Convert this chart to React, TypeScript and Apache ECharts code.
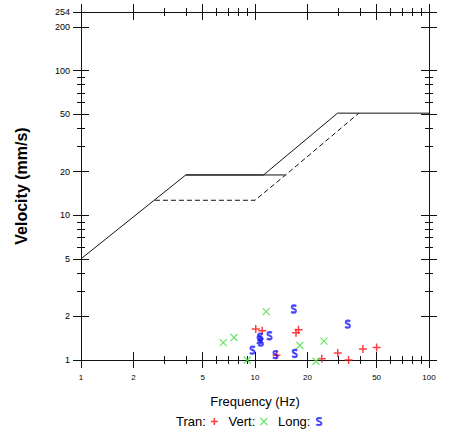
import React, { useEffect, useRef } from "react";
import * as echarts from "echarts";

// Tick values (Hz / mm/s)
const xMajorTicks = [1, 2, 5, 10, 20, 50, 100];
const xMinorTicks = [3, 4, 6, 7, 8, 9, 30, 40, 60, 70, 80, 90];
const yMajorTicks = [1, 2, 5, 10, 20, 50, 100, 200, 254];
const yMinorTicks = [3, 4, 6, 7, 8, 9, 30, 40, 60, 70, 80, 90];

// Limit curves
const osmreFreq = [1, 4, 11.2, 29.8, 100];
const osmreVel = [5, 19, 19, 50.8, 50.8];
const drywallFreq = [4, 15];
const drywallVel = [19, 19];
const plasterFreq = [2.66, 10, 15, 39.5];
const plasterVel = [12.7, 12.7, 19, 50.8];

// Measured peaks
const tranFreq = [10.1, 11.0, 17.2, 17.8, 13.3, 24.2, 29.9, 34.5, 41.7, 50.0];
const tranVel = [1.64, 1.59, 1.54, 1.62, 1.08, 1.02, 1.12, 1.0, 1.19, 1.22];
const vertFreq = [11.6, 6.57, 7.57, 9.03, 18.1, 22.4, 24.9];
const vertVel = [2.16, 1.32, 1.43, 1.0, 1.26, 0.98, 1.35];
const longFreq = [16.7, 34.1, 12.1, 10.7, 10.6, 10.8, 9.66, 13.1, 16.9];
const longVel = [2.25, 1.77, 1.47, 1.44, 1.38, 1.33, 1.17, 1.09, 1.11];

const lg = (v: number) => Math.log10(v);
const pts = (f: number[], v: number[]) => f.map((x, i) => [lg(x), lg(v[i])]);
const fmt = (v: number) => String(Math.round(Math.pow(10, v)));

const FONT = "Liberation Sans, Arial, sans-serif";
const axisColor = "#111";
const X_MIN = 0;
const X_MAX = lg(100);
const Y_MIN = 0;
const Y_MAX = lg(254);

const plusSym = "path://M0,5L10,5M5,0L5,10";
const crossSym = "path://M0,0L10,10M10,0L0,10";
const sSym = "path://M8.5,2.2C7.5,0.6 1.8,0.4 1.8,3.3C1.8,6.3 8.3,5.2 8.3,8.4C8.3,11.6 2.5,11.4 1.2,9.6";

function makeAxes(dim: "x" | "y", pos: string, withLabels: boolean) {
  const isX = dim === "x";
  const major = (isX ? xMajorTicks : yMajorTicks).map(lg);
  const minor = (isX ? xMinorTicks : yMinorTicks).map(lg);
  const base: any = {
    type: "value",
    position: pos,
    min: isX ? X_MIN : Y_MIN,
    max: isX ? X_MAX : Y_MAX,
    splitLine: { show: false },
    nameMoveOverlap: false,
  };
  const lineAxis: any = {
    ...base,
    axisLine: { show: true, onZero: false, lineStyle: { color: axisColor, width: 1 } },
    axisTick: { show: false },
    axisLabel: withLabels
      ? {
          show: true,
          customValues: major,
          formatter: fmt,
          margin: isX ? 13 : 11,
          fontSize: isX ? 8 : 9,
          color: "#000",
          fontFamily: FONT,
        }
      : { show: false },
  };
  if (withLabels && isX) {
    lineAxis.name = "Frequency (Hz)";
    lineAxis.nameLocation = "middle";
    lineAxis.nameGap = 35;
    lineAxis.nameTextStyle = { fontSize: 13, fontFamily: FONT, color: "#000" };
  }
  if (withLabels && !isX) {
    lineAxis.name = "Velocity (mm/s)";
    lineAxis.nameLocation = "middle";
    lineAxis.nameGap = 52;
    lineAxis.nameTextStyle = { fontSize: 16, fontWeight: "bold", fontFamily: FONT, color: "#000" };
  }
  const majorAxis = {
    ...base,
    offset: 8,
    axisLine: { show: false, onZero: false },
    axisTick: { show: true, inside: true, length: 16, customValues: major, lineStyle: { color: axisColor, width: 1 } },
    axisLabel: { show: false },
  };
  const minorAxis = {
    ...base,
    offset: 4,
    axisLine: { show: false, onZero: false },
    axisTick: { show: true, inside: true, length: 8, customValues: minor, lineStyle: { color: axisColor, width: 1 } },
    axisLabel: { show: false },
  };
  return [lineAxis, majorAxis, minorAxis];
}

export default function App() {
  const ref = useRef<HTMLDivElement>(null);
  useEffect(() => {
    if (!ref.current) return;
    const chart = echarts.init(ref.current, undefined, { renderer: "svg" });
    const lineBase = {
      type: "line",
      xAxisIndex: 0,
      yAxisIndex: 0,
      symbol: "none",
      showSymbol: false,
      silent: true,
      clip: false,
    };
    chart.setOption({
      animation: false,
      backgroundColor: "#fff",
      grid: { left: 81, right: 20, top: 12, bottom: 73, containLabel: false, outerBoundsMode: "none" },
      xAxis: [...makeAxes("x", "bottom", true), ...makeAxes("x", "top", false)],
      yAxis: [...makeAxes("y", "left", true), ...makeAxes("y", "right", false)],
      legend: {
        data: [
          { name: "Tran:", itemStyle: { borderWidth: 1.5 } },
          { name: "Vert:", itemStyle: { borderWidth: 1.2 } },
          { name: "Long:", itemStyle: { borderWidth: 2 } },
        ],
        left: 176,
        top: 415,
        align: "right",
        itemWidth: 7,
        itemHeight: 7,
        itemGap: 10,
        selectedMode: false,
        padding: 0,
        textStyle: { fontSize: 13, fontFamily: FONT, color: "#000" },
      },
      series: [
        { ...lineBase, name: "OSMRE", data: pts(osmreFreq, osmreVel), lineStyle: { color: "#111", width: 1 } },
        { ...lineBase, name: "Drywall", data: pts(drywallFreq, drywallVel), lineStyle: { color: "#111", width: 1 } },
        {
          ...lineBase,
          name: "Plaster",
          data: pts(plasterFreq, plasterVel),
          lineStyle: { color: "#111", width: 1, type: [5, 3] },
        },
        {
          type: "scatter",
          name: "Tran:",
          data: pts(tranFreq, tranVel),
          symbol: plusSym,
          symbolSize: 8,
          clip: false,
          itemStyle: { color: "#ff1010", borderColor: "#ff1010", borderWidth: 1.5 },
        },
        {
          type: "scatter",
          name: "Vert:",
          data: pts(vertFreq, vertVel),
          symbol: crossSym,
          symbolSize: 7,
          clip: false,
          itemStyle: { color: "#44dd44", borderColor: "#44dd44", borderWidth: 1.2 },
        },
        {
          type: "scatter",
          name: "Long:",
          data: pts(longFreq, longVel),
          symbol: sSym,
          symbolSize: [5, 7],
          clip: false,
          itemStyle: { color: "rgba(0,0,0,0)", borderColor: "#1a1aff", borderWidth: 2 },
        },
      ],
    });
    return () => chart.dispose();
  }, []);
  return (
    <div
      ref={ref}
      style={{ position: "absolute", left: 0, top: 0, width: 449, height: 433, background: "#fff" }}
    />
  );
}
